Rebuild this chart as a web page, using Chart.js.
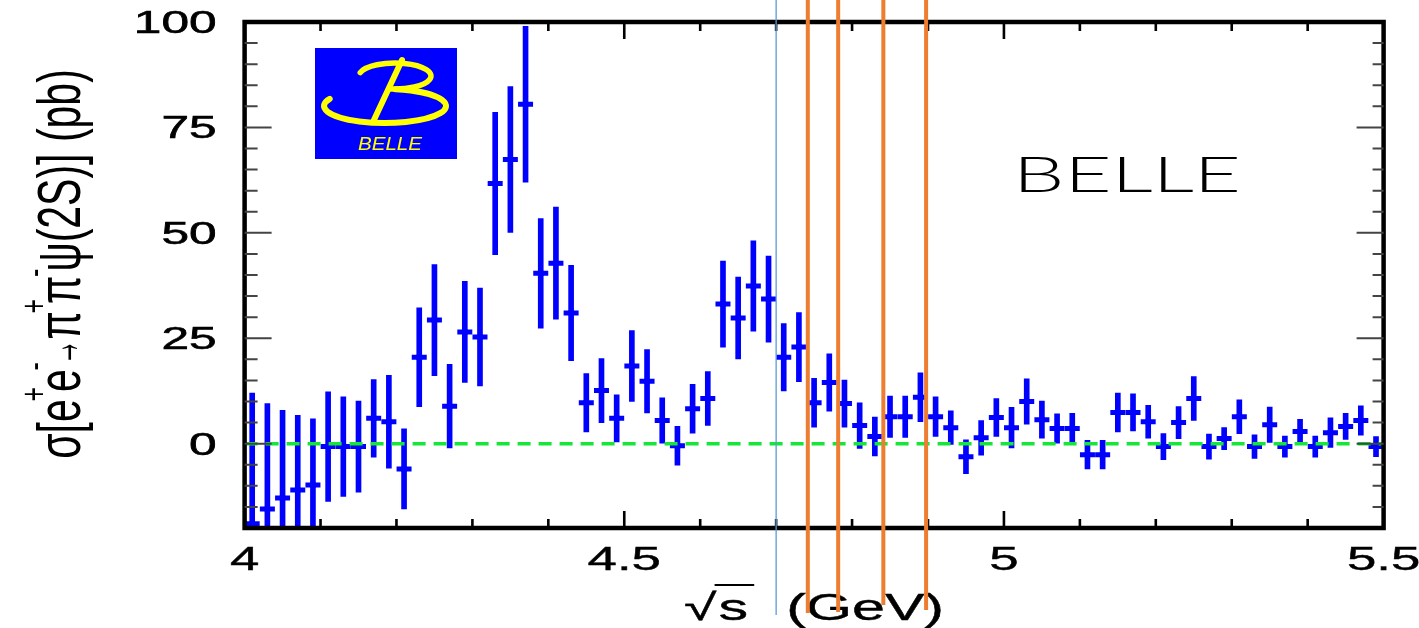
<!DOCTYPE html>
<html><head><meta charset="utf-8">
<script src="https://cdn.jsdelivr.net/npm/chart.js@4.4.0/dist/chart.umd.min.js"></script>
<style>html,body{margin:0;padding:0;background:#fff;overflow:hidden}canvas{display:block}</style>
</head><body>
<canvas id="c" width="1419" height="628"></canvas>
<script>
// ---------------- data ----------------
const energy = [4.01,4.03,4.05,4.07,4.09,4.11,4.13,4.15,4.17,4.19,
                4.21,4.23,4.25,4.27,4.29,4.31,4.33,4.35,4.37,4.39,
                4.41,4.43,4.45,4.47,4.49,4.51,4.53,4.55,4.57,4.59,
                4.61,4.63,4.65,4.67,4.69,4.71,4.73,4.75,4.77,4.79,
                4.81,4.83,4.85,4.87,4.89,4.91,4.93,4.95,4.97,4.99,
                5.01,5.03,5.05,5.07,5.09,5.11,5.13,5.15,5.17,5.19,
                5.21,5.23,5.25,5.27,5.29,5.31,5.33,5.35,5.37,5.39,
                5.41,5.43,5.45,5.47,5.49];
const sigma = [-19,-15.5,-12.9,-11,-9.8,-0.7,-0.7,-0.7,6.0,5.2,
               -6.0,20.5,29.3,8.9,26.5,25.3,61.7,67.4,80.5,40.4,
               42.8,31.0,9.7,12.6,6.0,18.4,14.8,5.5,-0.5,8.3,
               10.7,33.1,29.8,37.4,34.3,20.5,22.9,9.7,14.5,9.5,
               4.3,1.7,6.4,6.4,11.0,6.4,3.8,-3.1,1.4,6.2,
               3.8,10.0,5.7,3.6,3.6,-2.6,-2.6,7.4,7.4,5.2,
               -0.7,5.0,10.7,-0.7,1.2,6.4,-0.7,4.5,-0.7,2.9,
               -0.7,2.6,4.1,5.5,-0.7];
const sigmaErr = [31,25,20.8,17.7,15.7,13,11.8,10.8,9.2,11,
                  9.5,11.7,13.2,9.9,12,11.6,16.9,17.3,18.5,13,
                  13.3,11.3,6.9,7.6,5.6,8.4,7.5,5.4,4.6,5.8,
                  6.4,10.2,9.7,10.7,10.2,8,8.2,5.8,6.8,5.6,
                  5.4,4.6,4.9,4.9,5.8,4.7,4,4,4.1,4.5,
                  4.8,5.4,4.4,3.5,3.6,3.4,3.4,4.6,4.4,3.9,
                  3.1,3.8,5.2,3,2.6,4,2.8,4.2,2.5,2.9,
                  2.5,3.5,3.1,3.5,2.4];
const xTickLabels = ['4','4.5','5','5.5'];
const yTickLabels = ['0','25','50','75','100'];
const zeroLineX = [4, 5.5];
const guideLineX = [4.7];
const markerLineX = [4.7417, 4.7817, 4.8412, 4.8975];
const xTitle = ['√s', '(GeV)'];
// [text, style]: 0 normal, 1 superscript, 2 compressed arrow
const yTitleParts = [['σ[e',0],['+',1],['e',0],['-',1],['→',2],['π',0],['+',1],['π',0],['-',1],['ψ(2S)] (pb)',0]];
const experimentLabel = 'BELLE';

// ---------------- helpers ----------------
const SX = 1.6;
const FAM = '"Liberation Sans", Arial, Helvetica, sans-serif';
function sText(ctx, txt, x, y, font, align, sx, bold) {
  ctx.save();
  ctx.font = font; ctx.textAlign = 'left'; ctx.textBaseline = 'alphabetic';
  const w = ctx.measureText(txt).width * sx;
  const x0 = align === 'center' ? x - w / 2 : (align === 'right' ? x - w : x);
  ctx.translate(x0, y); ctx.scale(sx, 1);
  ctx.fillText(txt, 0, 0);
  if (bold) { ctx.lineWidth = bold; ctx.strokeStyle = ctx.fillStyle; ctx.strokeText(txt, 0, 0); }
  ctx.restore();
  return w;
}

const decor = {
  id: 'decor',
  afterDraw(chart) {
    const ctx = chart.ctx, xs = chart.scales.x, ys = chart.scales.y, a = chart.chartArea;
    ctx.save();
    // frame
    ctx.strokeStyle = '#000'; ctx.lineWidth = 4.5;
    ctx.strokeRect(a.left, a.top, a.right - a.left, a.bottom - a.top);
    // y ticks
    const yMaj = yTickLabels.map(Number);
    ctx.strokeStyle = '#444'; ctx.lineWidth = 2;
    ys.ticks.forEach(t => {
      const py = ys.getPixelForValue(t.value);
      if (py < a.top + 2 || py > a.bottom - 2) return;
      const major = yMaj.some(v => Math.abs(v - t.value) < 1e-6);
      const lenL = major ? 27 : 13, lenR = major ? 27 : 11;
      ctx.beginPath();
      ctx.moveTo(a.left, py); ctx.lineTo(a.left + lenL, py);
      ctx.moveTo(a.right, py); ctx.lineTo(a.right - lenR, py);
      ctx.stroke();
    });
    // x ticks
    const xMaj = xTickLabels.map(Number);
    ctx.strokeStyle = '#000'; ctx.lineWidth = 2.6;
    xs.ticks.forEach(t => {
      const px = xs.getPixelForValue(t.value);
      if (px < a.left + 2 || px > a.right - 2) return;
      const major = xMaj.some(v => Math.abs(v - t.value) < 1e-6);
      const len = major ? 17 : 9;
      ctx.beginPath();
      ctx.moveTo(px, a.bottom); ctx.lineTo(px, a.bottom - len);
      ctx.moveTo(px, a.top); ctx.lineTo(px, a.top + len);
      ctx.stroke();
    });
    // tick labels
    ctx.fillStyle = '#000';
    yTickLabels.forEach(l => {
      const py = ys.getPixelForValue(Number(l));
      sText(ctx, l, a.left - 28, py + 11, '31px ' + FAM, 'right', SX, 0.6);
    });
    xTickLabels.forEach(l => {
      const px = xs.getPixelForValue(Number(l));
      sText(ctx, l, px, a.bottom + 42, '33px ' + FAM, 'center', SX, 0.4);
    });
    // x title: sqrt(s) (GeV)
    {
      const f = '37px ' + FAM, base = 620;
      ctx.save(); ctx.font = f;
      const wRoot = ctx.measureText('√').width * SX;
      const wS = ctx.measureText('s').width * SX;
      const wG = ctx.measureText(xTitle[1]).width * SX;
      const gap = 40;
      const total = wRoot + wS + gap + wG;
      let x0 = (a.left + a.right) / 2 - total / 2;
      sText(ctx, '√', x0, base, f, 'left', SX, 0.4);
      sText(ctx, 's', x0 + wRoot + 2, base, f, 'left', SX, 0.4);
      ctx.strokeStyle = '#000'; ctx.lineWidth = 2;
      ctx.beginPath(); ctx.moveTo(x0 + wRoot - 2, base - 35); ctx.lineTo(x0 + wRoot + wS + 8, base - 35); ctx.stroke();
      sText(ctx, xTitle[1], x0 + wRoot + wS + gap, base, f, 'left', SX, 0.4);
      ctx.restore();
    }
    // y title (rotated, with superscripts)
    {
      const fs = 41, tsx = 1.5, arrowSq = 0.62;
      const sizeOf = s => s === 1 ? Math.round(fs * 0.62) : fs;
      const advOf = s => s === 1 ? 0.5 : (s === 2 ? arrowSq : 1);
      ctx.save();
      const widths = yTitleParts.map(([t, s]) => {
        ctx.font = sizeOf(s) + 'px ' + FAM;
        return ctx.measureText(t).width * advOf(s);
      });
      const total = widths.reduce((p, c) => p + c, 0);
      ctx.translate(80, 264);
      ctx.scale(tsx, 1);
      ctx.rotate(-Math.PI / 2);
      ctx.fillStyle = '#000'; ctx.textBaseline = 'alphabetic'; ctx.textAlign = 'left';
      let u = -total / 2;
      yTitleParts.forEach(([t, s], i) => {
        ctx.font = sizeOf(s) + 'px ' + FAM;
        if (s === 2) {
          ctx.save(); ctx.translate(u, 0); ctx.scale(arrowSq, 1); ctx.fillText(t, 0, 0); ctx.restore();
        } else {
          const dx = s === 1 ? -widths[i] * 0.3 : 0;
          const dy = s === 1 ? -fs * 0.55 : 0;
          ctx.fillText(t, u + dx, dy);
        }
        u += widths[i];
      });
      ctx.restore();
    }
    // BELLE logo (blue box with yellow B)
    {
      const lx = a.left + 70.4, ly = a.top + 26, lw = 142, lh = 111;
      ctx.save();
      ctx.fillStyle = '#0000ff'; ctx.fillRect(lx, ly, lw, lh);
      ctx.strokeStyle = '#ffff00'; ctx.fillStyle = '#ffff00'; ctx.lineCap = 'round';
      ctx.lineWidth = 5.5;
      ctx.beginPath();
      ctx.ellipse(lx + 80, ly + 28, 36, 13, 0, 195 * Math.PI / 180, 100 * Math.PI / 180, false);
      ctx.stroke();
      ctx.lineWidth = 6;
      ctx.beginPath();
      ctx.ellipse(lx + 70, ly + 58, 61, 17, 0, 205 * Math.PI / 180, 280 * Math.PI / 180, true);
      ctx.stroke();
      ctx.lineWidth = 6;
      ctx.beginPath(); ctx.moveTo(lx + 87, ly + 12); ctx.lineTo(lx + 58, ly + 74); ctx.stroke();
      ctx.font = 'italic 19px ' + FAM;
      const tw = ctx.measureText(experimentLabel).width;
      ctx.save(); ctx.translate(lx + 43, ly + 102); ctx.scale(64 / tw, 1); ctx.fillText(experimentLabel, 0, 0); ctx.restore();
      ctx.restore();
    }
    // big thin BELLE label
    {
      ctx.save();
      const f = '300 49px Lato, "Noto Sans", ' + FAM;
      ctx.font = f;
      const w = ctx.measureText(experimentLabel).width;
      const sx = 228 / w;
      ctx.fillStyle = '#000';
      ctx.translate(1013, 192); ctx.scale(sx, 1);
      ctx.fillText(experimentLabel, 0, 0);
      ctx.restore();
    }
    // overlay guide lines
    ctx.save();
    ctx.strokeStyle = '#5b9bd5'; ctx.lineWidth = 1.3;
    guideLineX.forEach(v => {
      const px = xs.getPixelForValue(v);
      ctx.beginPath(); ctx.moveTo(px, 0); ctx.lineTo(px, 615); ctx.stroke();
    });
    const ends = [613, 612, 605, 610];
    ctx.strokeStyle = '#ed7d31'; ctx.lineWidth = 4;
    markerLineX.forEach((v, i) => {
      const px = xs.getPixelForValue(v);
      ctx.beginPath(); ctx.moveTo(px, 0); ctx.lineTo(px, ends[i]); ctx.stroke();
    });
    ctx.restore();
    ctx.restore();
  }
};

const errBars = energy.map((e, i) => ({x: e, y: [sigma[i] - sigmaErr[i], sigma[i] + sigmaErr[i]]}));
const points = energy.map((e, i) => ({x: e, y: sigma[i]}));

new Chart(document.getElementById('c'), {
  type: 'scatter',
  data: {
    datasets: [
      {type: 'line', label: 'zero', data: zeroLineX.map(x => ({x, y: 0})), borderColor: '#16e638', borderWidth: 3.5,
       borderDash: [13, 8], pointRadius: 0, fill: false, order: 0},
      {type: 'scatter', label: 'centre', data: points, pointStyle: 'rectRot', pointRadius: 5,
       pointBorderWidth: 0, pointBorderColor: '#0000ff', pointBackgroundColor: '#0000ff', order: 1},
      {type: 'scatter', label: 'data', data: points, pointStyle: 'line', pointRadius: 7.5, pointBorderWidth: 5,
       pointBorderColor: '#0000ff', pointBackgroundColor: '#0000ff', order: 2},
      {type: 'bar', label: 'err', data: errBars, backgroundColor: '#0000ff', borderWidth: 0, barThickness: 5, order: 3}
    ]
  },
  options: {
    responsive: false, animation: false, events: [],
    layout: {padding: {left: 244.6, right: 35.4, top: 22, bottom: 100}},
    plugins: {legend: {display: false}, tooltip: {enabled: false}},
    scales: {
      x: {type: 'linear', display: false, min: 4, max: 5.5, offset: false, ticks: {stepSize: 0.1}},
      y: {type: 'linear', display: false, min: -20, max: 100, ticks: {stepSize: 5}}
    }
  },
  plugins: [decor]
});
</script>
</body></html>
